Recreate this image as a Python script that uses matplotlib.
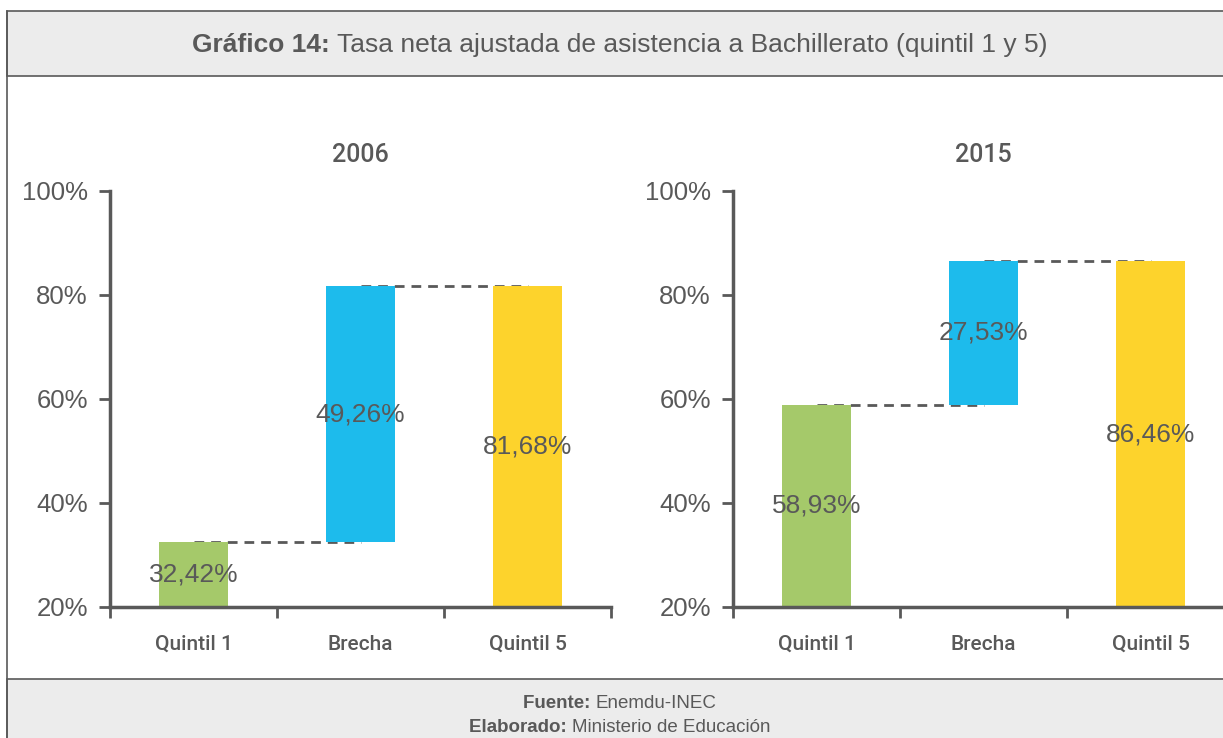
import numpy as np
import matplotlib.pyplot as plt
from matplotlib.patches import Rectangle

plt.rcParams['font.family'] = ['Liberation Sans', 'DejaVu Sans']

categorias = ['Quintil 1', 'Brecha', 'Quintil 5']
anios = ['2006', '2015']
quintil1 = [32.42, 58.93]
quintil5 = [81.68, 86.46]
brecha = [49.26, 27.53]
etiquetas = [['32,42%', '49,26%', '81,68%'], ['58,93%', '27,53%', '86,46%']]
colores = ['#a5c96a', '#1dbbec', '#fdd32c']
gris = '#595959'

W, H = 1223, 738
fig = plt.figure(figsize=(W / 100, H / 100), dpi=100)

# cabecera y pie
fig.patches.append(Rectangle((7 / W, 1 - 76 / H), 1.0, 65 / H, transform=fig.transFigure,
                             facecolor='#ececec', edgecolor=gris, lw=1.2, zorder=0))
fig.patches.append(Rectangle((7 / W, -0.01), 1.0, (H - 679) / H + 0.01, transform=fig.transFigure,
                             facecolor='#ececec', edgecolor=gris, lw=1.2, zorder=0))
fig.lines.append(plt.Line2D([7 / W, 7 / W], [0, 1 - 11 / H], transform=fig.transFigure,
                            color=gris, lw=1.2))

def dos_partes(y, negrita, normal, size):
    r = fig.canvas.get_renderer()
    t1 = fig.text(0, y, negrita, fontsize=size, fontweight='bold', color=gris, va='center')
    t2 = fig.text(0, y, normal, fontsize=size, color=gris, va='center')
    w1 = t1.get_window_extent(r).width
    w2 = t2.get_window_extent(r).width
    x0 = (W / 2 + 8 - (w1 + w2) / 2) / W
    t1.set_x(x0)
    t2.set_x(x0 + w1 / W)

dos_partes(1 - 45 / H, 'Gráfico 14: ', 'Tasa neta ajustada de asistencia a Bachillerato (quintil 1 y 5)', 19)
dos_partes(1 - 704 / H, 'Fuente: ', 'Enemdu-INEC', 13.5)
dos_partes(1 - 727 / H, 'Elaborado: ', 'Ministerio de Educación', 13.5)

medio = dict(family=['Roboto', 'DejaVu Sans'], weight='medium')

x = np.arange(len(categorias))
izq = [110 / W, 733 / W]
for k in range(2):
    ax = fig.add_axes([izq[k], 1 - 607 / H, 501 / W, 416 / H])
    bases = [20, quintil1[k], 20]
    tops = [quintil1[k], quintil5[k], quintil5[k]]
    alturas = [t - b for t, b in zip(tops, bases)]
    ax.bar(x, alturas, bottom=bases, width=0.41, color=colores, zorder=2)
    for i in range(3):
        ax.text(x[i], bases[i] + alturas[i] / 2, etiquetas[k][i], ha='center', va='center',
                fontsize=19, color=gris, zorder=3)
    ax.plot([x[0], x[1]], [quintil1[k]] * 2, ls=(0, (3.5, 2.5)), color=gris, lw=2, zorder=1)
    ax.plot([x[1], x[2]], [quintil5[k]] * 2, ls=(0, (3.5, 2.5)), color=gris, lw=2, zorder=1)
    ax.set_xlim(-0.5, 2.5)
    ax.set_ylim(20, 100)
    ax.set_yticks([20, 40, 60, 80, 100])
    ax.set_yticklabels(['20%', '40%', '60%', '80%', '100%'])
    ax.set_xticks(x)
    ax.set_xticklabels(categorias, fontsize=15, **medio)
    ax.set_xticks([-0.5, 0.5, 1.5, 2.5], minor=True)
    ax.tick_params(axis='x', which='major', length=0, pad=20, colors=gris)
    ax.tick_params(axis='x', which='minor', length=8, width=2, colors=gris)
    ax.tick_params(axis='y', length=8, width=2, colors=gris, labelsize=18.5, pad=8)
    for s in ['top', 'right']:
        ax.spines[s].set_visible(False)
    for s in ['left', 'bottom']:
        ax.spines[s].set_color(gris)
        ax.spines[s].set_linewidth(2.5)
    ax.set_title(anios[k], fontsize=18, color=gris, pad=21, **medio)
    ax.patch.set_alpha(0)

fig.savefig('out.png', dpi=100)
